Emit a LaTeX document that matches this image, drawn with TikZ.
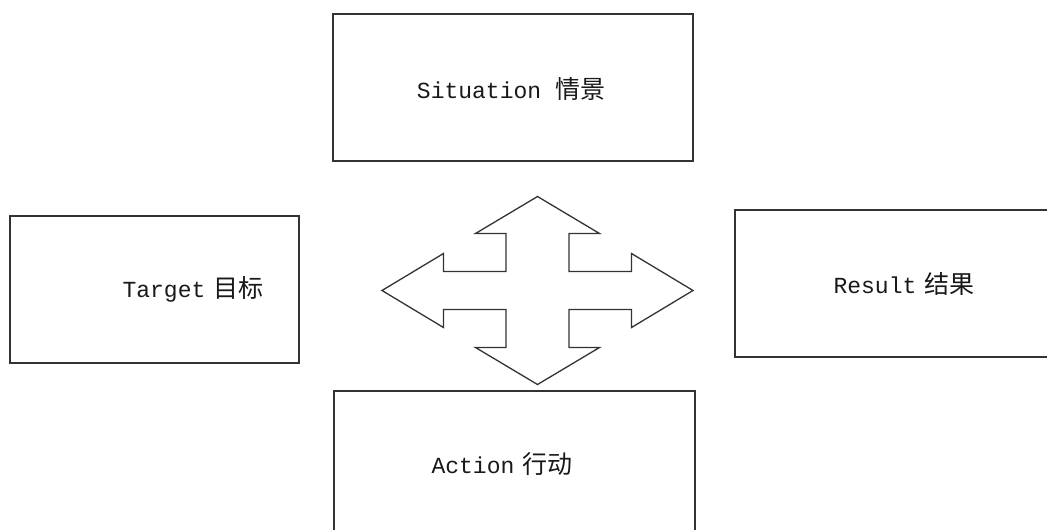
\documentclass[tikz,border=0pt]{standalone}
\usepackage{fontspec}
\newfontfamily\monofnt{Liberation Mono}
\newfontfamily\cjkfnt{Noto Sans CJK SC}
\newcommand{\cjktxt}[1]{{\fontsize{25}{27}\selectfont\cjkfnt #1}}
\begin{document}
\begin{tikzpicture}[x=1pt,y=-1pt,
  box/.style={draw=black!80, line width=1.6pt, rectangle, inner sep=0pt},
  lbl/.style={font=\fontsize{23}{27}\selectfont\monofnt, text=black!90, inner sep=0pt},
  cross/.style={draw=black!80, line width=1.3pt, line join=miter, fill=white}]
\useasboundingbox (0,0) rectangle (1047,530);
\clip (0,0) rectangle (1047,530);
\fill[white] (0,0) rectangle (1047,530);

% boxes
\node[box, minimum width=360pt, minimum height=147pt] (S) at (513,87.5) {};
\node[box, minimum width=289pt, minimum height=147pt] (T) at (154.5,289.5) {};
\node[box, minimum width=340pt, minimum height=147pt] (R) at (905,283.5) {};
\node[box, minimum width=361pt, minimum height=147pt] (A) at (514.5,464.5) {};

% labels
\node[lbl] (St) at (511,89) {Situation \cjktxt{情景}};
\node[lbl] (Tt) at (193,289) {Target\hspace{0.35em}\cjktxt{目标}};
\node[lbl] (Rt) at (904,284) {Result\hspace{0.35em}\cjktxt{结果}};
\node[lbl] (At) at (502,464) {Action\hspace{0.35em}\cjktxt{行动}};

% four-way arrow
\draw[cross, shift={(537.5,290.5)}]
  (0,-94) -- (62,-57) -- (31.5,-57) -- (31.5,-19) -- (94,-19) -- (94,-37)
  -- (155.5,0) -- (94,37) -- (94,19) -- (31.5,19) -- (31.5,57) -- (62,57)
  -- (0,94) -- (-62,57) -- (-31.5,57) -- (-31.5,19) -- (-94,19) -- (-94,37)
  -- (-155.5,0) -- (-94,-37) -- (-94,-19) -- (-31.5,-19) -- (-31.5,-57)
  -- (-62,-57) -- cycle;
\end{tikzpicture}
\end{document}
